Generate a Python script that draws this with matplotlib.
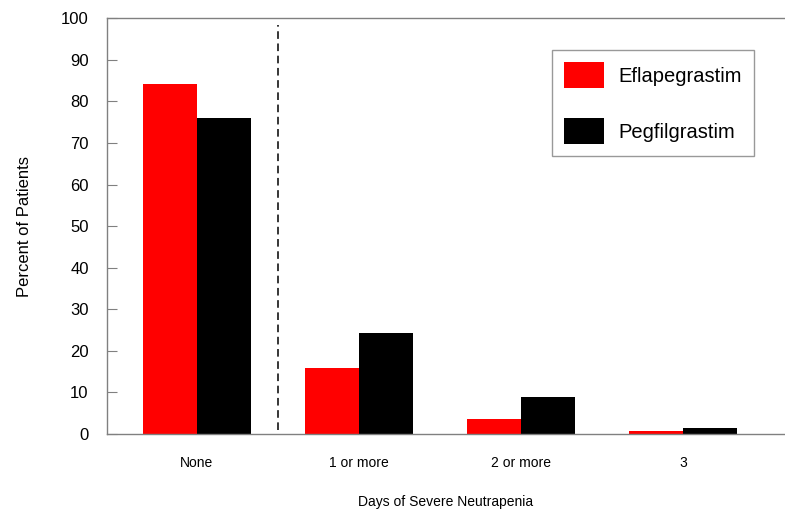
import numpy as np
import matplotlib
matplotlib.use("Agg")
import matplotlib.pyplot as plt

plt.rcParams['font.family'] = ['Liberation Sans', 'DejaVu Sans']

categories = ["None", "1 or more", "2 or more", "3"]
eflapegrastim = [84.2, 15.8, 3.5, 0.6]
pegfilgrastim = [76.0, 24.2, 8.8, 1.4]

fig = plt.figure(figsize=(7.85, 5.19), dpi=100)
ax = fig.add_axes([0.136, 0.1638, 0.864, 0.8009])

x = np.arange(len(categories))
w = 1 / 3
ax.bar(x - w / 2, eflapegrastim, width=w, color="#ff0000", label="Eflapegrastim")
ax.bar(x + w / 2, pegfilgrastim, width=w, color="#000000", label="Pegfilgrastim")

# dashed divider between "None" and the rest
ax.plot([0.5, 0.5], [1, 98.5], color="black", linestyle=(0, (5, 3)), linewidth=1.1)

ax.set_xlim(-0.556, 3.63)
ax.set_ylim(0, 100)
ax.set_yticks(range(0, 101, 10))
ax.set_xticks(x)
ax.set_xticklabels(categories, fontsize=10)

for side in ["left", "top", "bottom"]:
    ax.spines[side].set_color("#808080")
    ax.spines[side].set_linewidth(1.0)
ax.spines["right"].set_visible(False)

ax.tick_params(axis="y", direction="in", length=7.5, color="#808080", labelsize=12, pad=13)
ax.tick_params(axis="x", length=0, pad=16)

ax.set_ylabel("Percent of Patients", fontsize=12, labelpad=21)
ax.set_xlabel("Days of Severe Neutrapenia", fontsize=10, labelpad=18)

leg = ax.legend(loc="upper left", bbox_to_anchor=(0.656, 0.924), fontsize=14.5,
                frameon=True, fancybox=False, handlelength=2.0, handleheight=1.6,
                labelspacing=1.5, borderpad=0.6, handletextpad=0.7, borderaxespad=0)
leg.get_frame().set_edgecolor("#808080")
leg.get_frame().set_linewidth(1.0)

fig.savefig("out.png", dpi=100)
